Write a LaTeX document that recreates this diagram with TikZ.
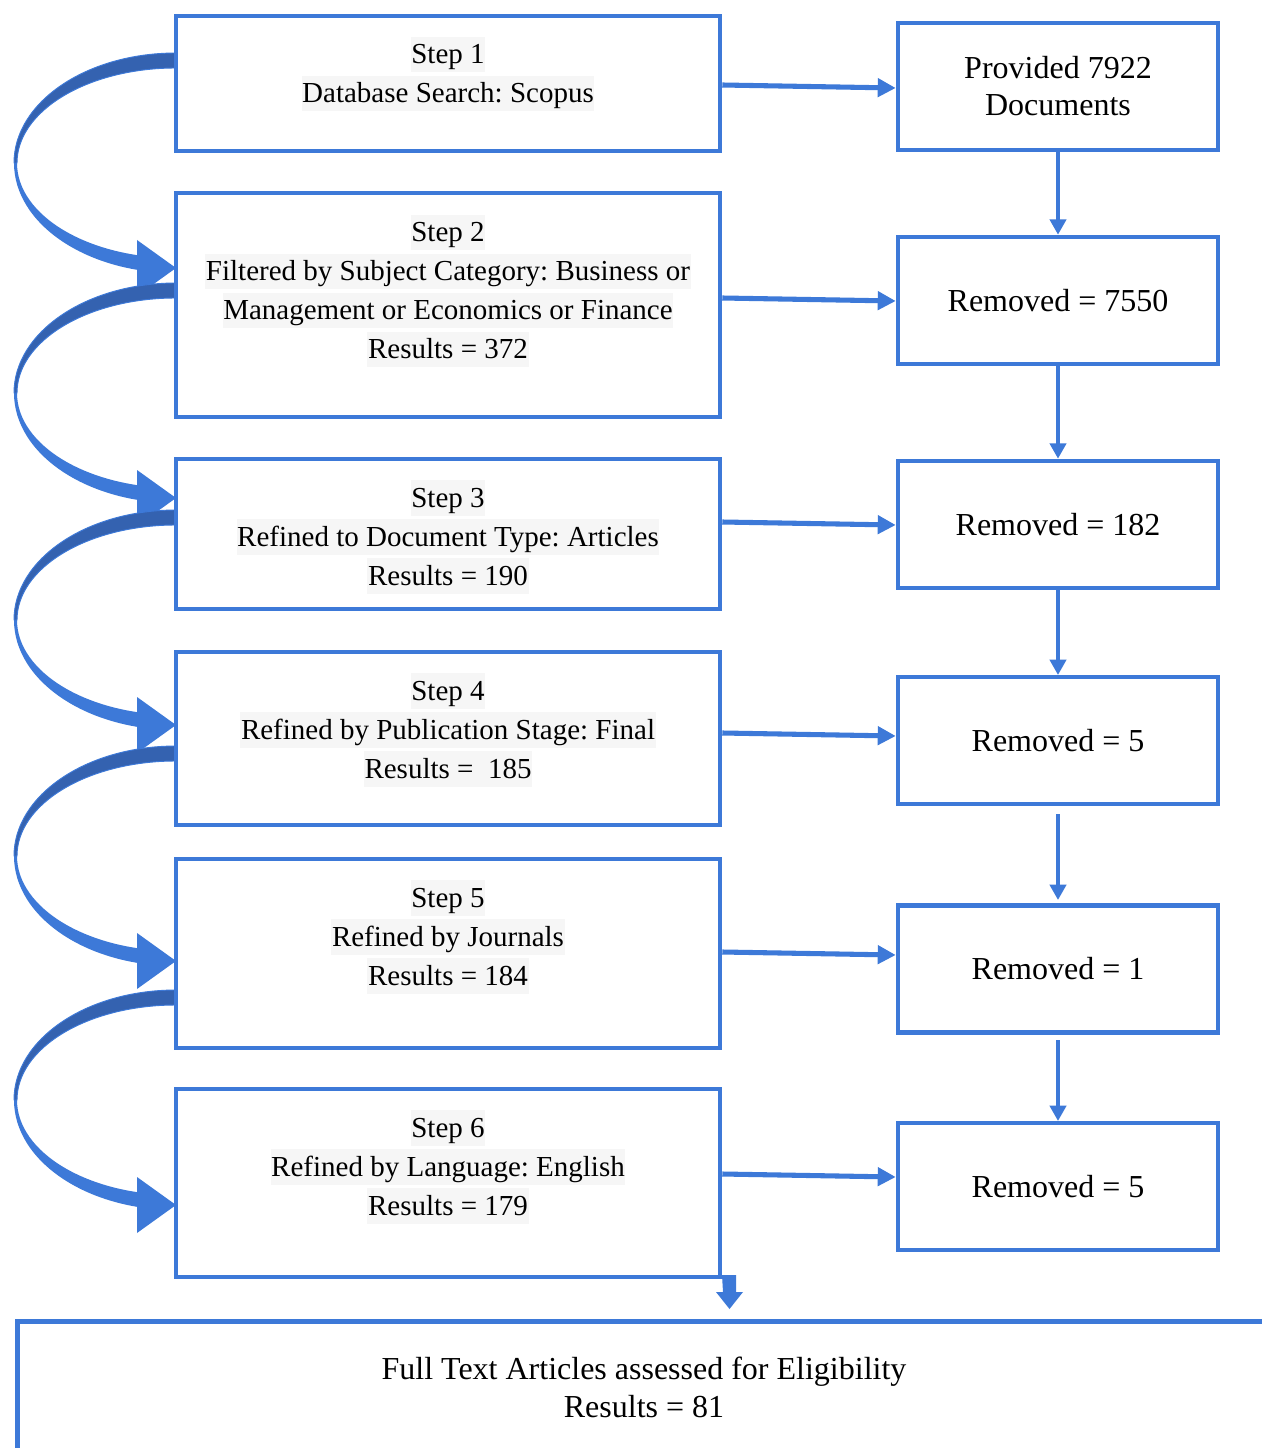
\documentclass[tikz,border=0pt]{standalone}
\usepackage{fontspec}
\setmainfont{Liberation Serif}
\usetikzlibrary{arrows.meta}
\definecolor{bblue}{HTML}{3D79D8}
\definecolor{dblue}{HTML}{3462B0}
\definecolor{hlgray}{HTML}{F6F6F6}
\newcommand\hlline[1]{{\setlength{\fboxsep}{0.5pt}\colorbox{hlgray}{\rule[-6pt]{0pt}{25.5pt}#1}}}
\frenchspacing
\begin{document}
\begin{tikzpicture}[x=0.75pt,y=-0.75pt,
  box/.style={draw=bblue, line width=3.4pt, fill=white, rectangle, inner sep=0pt},
  lbox/.style={box, minimum width=408pt},
  rbox/.style={box, minimum width=240pt, minimum height=95.25pt, align=center,
     font=\fontsize{24}{27.75}\selectfont},
  ltext/.style={align=center, inner sep=0pt, font=\fontsize{21.75}{29.25}\selectfont},
  harrow/.style={draw=bblue, line width=3.8pt, -{Triangle[length=13.5pt,width=13.5pt]}},
  varrow/.style={draw=bblue, line width=3pt, -{Triangle[length=11.5pt,width=12pt]}},
]
\clip (0,0) rectangle (1262,1448);
\fill[white] (0,0) rectangle (1262,1448);

% curved arrows between step boxes
\foreach \cy in {163,393,620,856,1100}{
  \begin{scope}
    \clip (0,\cy) rectangle (139,\cy+125);
    \fill[bblue] (14,\cy) .. controls (14,\cy+60.8) and (86.5,\cy+110) .. (176,\cy+110)
      -- (176,\cy+95) .. controls (88.2,\cy+95) and (17,\cy+52.5) .. (17,\cy) -- cycle;
  \end{scope}
  \fill[bblue] (137,\cy+77) -- (176,\cy+105) -- (137,\cy+133) -- cycle;
  \filldraw[fill=dblue, draw=bblue, line width=0.7pt]
    (176,\cy-110) .. controls (86.5,\cy-110) and (14,\cy-60.8) .. (14,\cy)
    -- (17,\cy) .. controls (17,\cy-52.5) and (88.2,\cy-95) .. (176,\cy-95) -- cycle;
}

% step boxes
\node[lbox, minimum height=101.25pt] (s1) at (448,83.5) {};
\node[lbox, minimum height=168pt] (s2) at (448,305) {};
\node[lbox, minimum height=112.5pt] (s3) at (448,534) {};
\node[lbox, minimum height=129.75pt] (s4) at (448,738.5) {};
\node[lbox, minimum height=141.75pt] (s5) at (448,953.5) {};
\node[lbox, minimum height=141pt] (s6) at (448,1183) {};

\node[ltext] (t1) at (448,74) {\hlline{Step 1}\\\hlline{Database Search: Scopus}};
\node[ltext] (t2) at (448,291) {\hlline{Step 2}\\\hlline{Filtered by Subject Category: Business or}\\\hlline{Management or Economics or Finance}\\\hlline{Results = 372}};
\node[ltext] (t3) at (448,537) {\hlline{Step 3}\\\hlline{Refined to Document Type: Articles}\\\hlline{Results = 190}};
\node[ltext] (t4) at (448,730) {\hlline{Step 4}\\\hlline{Refined by Publication Stage: Final}\\\hlline{Results = \ 185}};
\node[ltext] (t5) at (448,937) {\hlline{Step 5}\\\hlline{Refined by Journals}\\\hlline{Results = 184}};
\node[ltext] (t6) at (448,1167) {\hlline{Step 6}\\\hlline{Refined by Language: English}\\\hlline{Results = 179}};

% result boxes
\node[rbox] (r1) at (1058,86.5) {Provided 7922\\Documents};
\node[rbox] (r2) at (1058,300.5) {Removed = 7550};
\node[rbox] (r3) at (1058,524.5) {Removed = 182};
\node[rbox] (r4) at (1058,740.5) {Removed = 5};
\node[rbox] (r5) at (1058,969) {Removed = 1};
\node[rbox] (r6) at (1058,1186.5) {Removed = 5};

% horizontal arrows
\draw[harrow] (s1.east |- 0,85) -- (r1.west |- 0,88);
\draw[harrow] (s2.east |- 0,298) -- (r2.west |- 0,301);
\draw[harrow] (s3.east |- 0,522) -- (r3.west |- 0,525);
\draw[harrow] (s4.east |- 0,733) -- (r4.west |- 0,736);
\draw[harrow] (s5.east |- 0,952) -- (r5.west |- 0,955);
\draw[harrow] (s6.east |- 0,1174) -- (r6.west |- 0,1177);

% vertical arrows
\draw[varrow] (r1.south) -- (r2.north);
\draw[varrow] (r2.south) -- (r3.north);
\draw[varrow] (r3.south) -- (r4.north |- 0,675);
\draw[varrow] (r4.south |- 0,814) -- (r5.north |- 0,900);
\draw[varrow] (r5.south |- 0,1040) -- (r6.north |- 0,1121);

% final box
\node[box, anchor=north west, minimum width=975pt, minimum height=150pt] (fin) at (15,1319) {};
\node[align=center, inner sep=0pt, font=\fontsize{24}{28.5}\selectfont] (fint) at (644,1387)
  {Full Text Articles assessed for Eligibility\\Results = 81};

% block arrow down to final box
\coordinate (ba) at (729,1275);
\fill[bblue] (ba) ++(-7,0) -- ++(14,0) -- ++(0,17) -- ++(7,0) -- ++(-13.5,17) -- ++(-13.5,-17) -- ++(7,0) -- cycle;
\end{tikzpicture}
\end{document}
